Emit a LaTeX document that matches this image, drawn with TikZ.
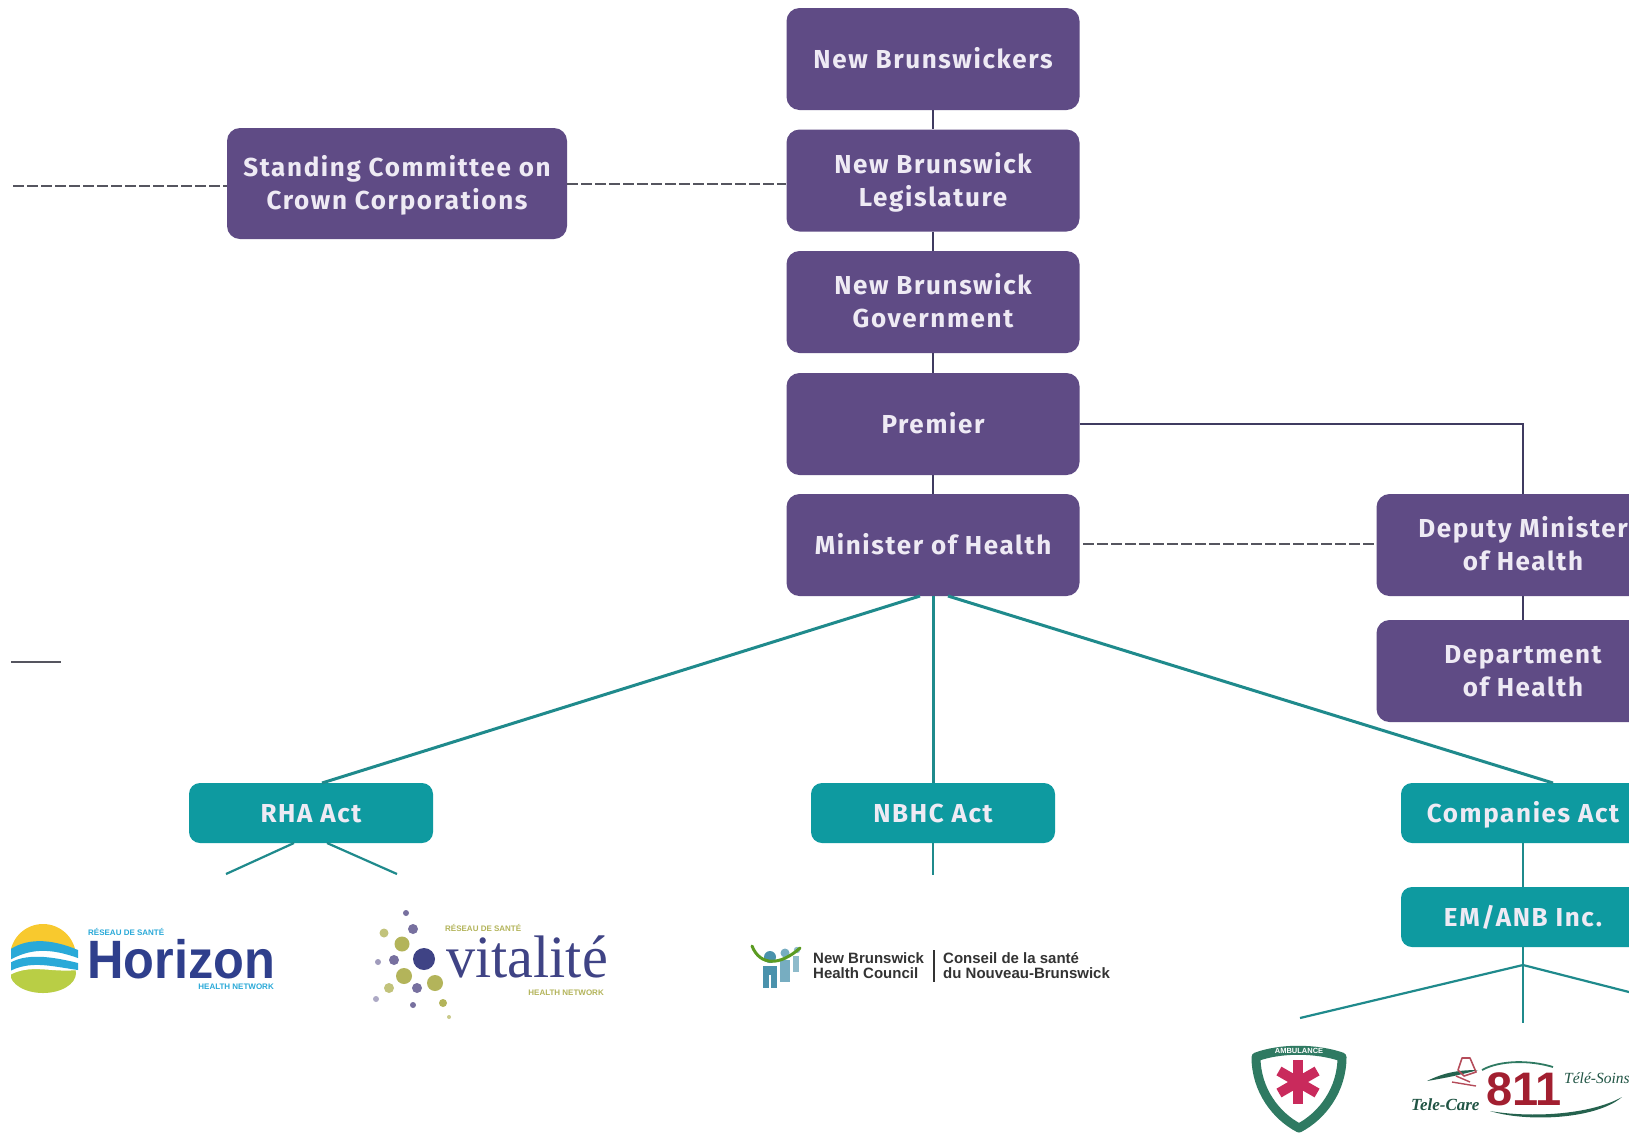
\documentclass[tikz,border=0pt]{standalone}
\usepackage{fontspec}
\setmainfont{Liberation Sans}
\newfontfamily\boxfont[LetterSpace=6.3]{Fira Sans}
\newfontfamily\serifbrand{Liberation Serif}
\newcommand\ls{\rule[-7.5pt]{0pt}{33pt}}
\definecolor{boxpurple}{HTML}{5F4B85}
\definecolor{boxteal}{HTML}{0E9AA0}
\definecolor{linkpurple}{HTML}{3F3B60}
\definecolor{linkteal}{HTML}{1F8A8C}
\definecolor{dashgrey}{HTML}{55555F}
\definecolor{boxtext}{HTML}{EEEAF4}
\definecolor{hznavy}{HTML}{2F3F8C}
\definecolor{hzblue}{HTML}{29A9D8}
\definecolor{hzyellow}{HTML}{F8C92E}
\definecolor{hzgreen}{HTML}{B9CE45}
\definecolor{vtnavy}{HTML}{3F4385}
\definecolor{vtolive}{HTML}{B3B45A}
\definecolor{vtplum}{HTML}{77709F}
\definecolor{shieldgreen}{HTML}{2F7A62}
\definecolor{starred}{HTML}{C92A5C}
\definecolor{elevenred}{HTML}{A21F30}
\tikzset{
  x=1pt,y=-1pt,
  orgbox/.style={fill=boxpurple,rounded corners=13pt,minimum width=293pt,minimum height=102pt,inner sep=0pt,
    text=boxtext,align=center,font=\boxfont\bfseries\fontsize{26}{33}\selectfont},
  actbox/.style={fill=boxteal,rounded corners=11pt,minimum width=244pt,minimum height=60pt,inner sep=0pt,
    text=boxtext,align=center,font=\boxfont\bfseries\fontsize{26}{33}\selectfont},
  chain/.style={draw=linkpurple,line width=2pt},
  branch/.style={draw=linkteal,line width=3pt},
  thinbranch/.style={draw=linkteal,line width=2.2pt},
  dashlink/.style={draw=dashgrey,line width=1.6pt,dash pattern=on 11pt off 3pt},
  tiny/.style={inner sep=0pt,font=\bfseries\fontsize{8}{9}\selectfont},
  brand/.style={inner sep=0pt,anchor=base west},
  nb/.style={inner sep=0pt,anchor=base west,text=black!80,font=\bfseries\fontsize{15}{15}\selectfont},
}
\begin{document}
\begin{tikzpicture}
\useasboundingbox (0,0) rectangle (1629,1136);
\clip (0,0) rectangle (1629,1136);
\fill[white] (0,0) rectangle (1629,1136);

% organisation boxes
\node[orgbox] (people) at (933,59) {\ls New Brunswickers};
\node[orgbox] (leg) at (933,180.5) {\ls New Brunswick\\\ls Legislature};
\node[orgbox] (gov) at (933,302) {\ls New Brunswick\\\ls Government};
\node[orgbox] (premier) at (933,424) {\ls Premier};
\node[orgbox] (minister) at (933,545) {\ls Minister of Health};
\node[orgbox,minimum width=340pt,minimum height=111pt] (committee) at (397,183.5) {\ls Standing Committee on\\\ls Crown Corporations};
\node[orgbox] (deputy) at (1523,545) {\ls Deputy Minister\\\ls of Health};
\node[orgbox] (dept) at (1523,671) {\ls Department\\\ls of Health};

% act boxes
\node[actbox] (rha) at (311,813) {\ls RHA Act};
\node[actbox] (nbhc) at (933,813) {\ls NBHC Act};
\node[actbox] (companies) at (1523,813) {\ls Companies Act};
\node[actbox] (em) at (1523,917) {\ls EM/ANB Inc.};

% free ends
\coordinate (legendstart) at (13,186);
\coordinate (solidA) at (11,662);
\coordinate (solidB) at (61,662);
\coordinate (ministerL) at (920,596);
\coordinate (ministerR) at (948,596);
\coordinate (rhaTop) at (322,783);
\coordinate (compTop) at (1553,783);
\coordinate (rhaL) at (294,843);
\coordinate (rhaLend) at (226,874);
\coordinate (rhaR) at (327,843);
\coordinate (rhaRend) at (397,874);
\coordinate (nbhcEnd) at (933,875);
\coordinate (emHub) at (1523,965);
\coordinate (emDown) at (1523,1023);
\coordinate (emLeft) at (1300,1018);
\coordinate (emRight) at (1629,992);
\coordinate (premierBend) at (1523,424);
\coordinate (depDashStart) at (1083,544);

% connectors
\draw[chain] (people.south) -- (leg.north);
\draw[chain] (leg.south) -- (gov.north);
\draw[chain] (gov.south) -- (premier.north);
\draw[chain] (premier.south) -- (minister.north);
\draw[chain] (premier.east) -- (premierBend) -- (deputy.north);
\draw[chain] (deputy.south) -- (dept.north);
\draw[dashlink] (legendstart) -- (committee.west |- legendstart);
\draw[dashlink] (committee.east |- 0,184) -- (leg.west |- 0,184);
\draw[dashlink] (depDashStart) -- (deputy.west |- depDashStart);
\draw[draw=dashgrey,line width=2.4pt] (solidA) -- (solidB);
\draw[branch] (ministerL) -- (rhaTop);
\draw[branch] (minister.south) -- (nbhc.north);
\draw[branch] (ministerR) -- (compTop);
\draw[thinbranch] (rhaL) -- (rhaLend);
\draw[thinbranch] (rhaR) -- (rhaRend);
\draw[thinbranch] (nbhc.south) -- (nbhcEnd);
\draw[thinbranch] (companies.south) -- (em.north);
\draw[thinbranch] (em.south) -- (emDown);
\draw[thinbranch] (emLeft) -- (emHub) -- (emRight);

% Horizon logo
\begin{scope}[yshift=2pt]
  \clip (11,900) rectangle (80,1010);
  \fill[hzyellow] (43,959) circle (33);
  \fill[hzgreen] (43,975) ellipse (33 and 20);
  \fill[white] (8,960) .. controls (25,945) and (50,945) .. (78,958) -- (78,972) .. controls (50,975) and (30,965) .. (8,978) -- cycle;
  \fill[hzblue] (8,953) .. controls (25,940) and (50,940) .. (78,952) -- (78,960) .. controls (50,950) and (30,950) .. (8,963) -- cycle;
  \fill[hzblue] (8,966) .. controls (25,955) and (50,958) .. (78,965) -- (78,972) .. controls (50,968) and (30,962) .. (8,974) -- cycle;
\end{scope}
\node[brand,text=hznavy,font=\bfseries\fontsize{54}{54}\selectfont,xscale=0.935,transform shape] (hztext) at (87,978) {Horizon};
\node[tiny,text=hzblue,anchor=west] (hzup) at (88,932) {RÉSEAU DE SANTÉ};
\node[tiny,text=hzblue,anchor=east] (hzlow) at (274,987) {HEALTH NETWORK};

% Vitalité logo
\fill[vtnavy] (424,959) circle (11);
\foreach \px/\py/\pd/\pc in {406/913/6/vtplum,413/929/10/vtplum,384/933/9/vtolive!80,402/944/15/vtolive,378/962/6/vtplum!70,394/960/10/vtplum,404/976/16/vtolive,435/983/16/vtolive,389/988/10/vtolive!80,417/988/10/vtplum,376/999/6/vtplum!60,413/1005/6/vtplum,443/1003/8/vtolive,449/1017/4/vtolive!70}
  \fill[\pc] (\px,\py) circle ({\pd/2});
\node[brand,text=vtnavy,font=\serifbrand\fontsize{60}{60}\selectfont,xscale=0.97,transform shape] (vttext) at (446,977) {vitalité};
\node[tiny,text=vtolive,anchor=west] (vtup) at (445,928) {RÉSEAU DE SANTÉ};
\node[tiny,text=vtolive,anchor=east] (vtlow) at (604,993) {HEALTH NETWORK};

% Health Council logo
\fill[hzblue!70!black!80] (770,957) circle (6);
\fill[hzblue!70!black!60] (785,953) circle (4.5);
\fill[hzblue!70!black!50] (797,950) circle (3.2);
\fill[hzblue!70!black!80] (763,966) rectangle (777,988);
\fill[hzblue!70!black!60] (780,960) rectangle (790,982);
\fill[hzblue!70!black!50] (793,956) rectangle (799,972);
\fill[white] (769,975) rectangle (771,988);
\draw[hzgreen!70!green!70!black,line width=3pt,line cap=round] (752,946) .. controls (760,966) and (780,966) .. (800,948);
\node[nb] (nben1) at (813,963) {New Brunswick};
\node[nb] (nben2) at (813,978) {Health Council};
\fill[black!80] (933,950) rectangle (935,982);
\node[nb] (nbfr1) at (943,963) {Conseil de la santé};
\node[nb] (nbfr2) at (943,978) {du Nouveau-Brunswick};

% Ambulance shield
\draw[shieldgreen,line width=9pt,fill=white,line join=round]
  (1256,1057) .. controls (1280,1048) and (1316,1048) .. (1342,1057)
  .. controls (1342,1090) and (1322,1116) .. (1299,1128)
  .. controls (1276,1116) and (1256,1090) .. (1256,1057) -- cycle;
\foreach \ang in {30,90,150}
  \draw[starred,line width=10pt] (1298,1082) ++(\ang:-22) -- ++(\ang:44);
\node[inner sep=0pt,text=white,font=\bfseries\fontsize{7.5}{8}\selectfont] (ambtext) at (1299,1051) {AMBULANCE};

% 811 logo
\draw[shieldgreen,line width=1.8pt] (1482,1070) .. controls (1500,1060) and (1530,1060) .. (1553,1067);
\fill[shieldgreen!80!black] (1427,1081) .. controls (1445,1072) and (1460,1070) .. (1478,1070) .. controls (1460,1075) and (1445,1078) .. (1427,1081) -- cycle;
\fill[shieldgreen!80!black] (1490,1111) .. controls (1530,1118) and (1590,1115) .. (1622,1097) .. controls (1595,1120) and (1525,1122) .. (1490,1111) -- cycle;
\draw[elevenred!80,line width=1.6pt,line join=round] (1462,1058) -- (1470,1058) -- (1476,1072) -- (1464,1076) -- (1458,1070) -- cycle;
\draw[elevenred!80,line width=1.4pt] (1452,1082) -- (1476,1086) (1456,1076) -- (1470,1082);
\node[brand,text=elevenred,font=\bfseries\fontsize{47}{47}\selectfont] (eleven) at (1486,1105) {811};
\node[brand,text=shieldgreen!70!black,font=\serifbrand\itshape\bfseries\fontsize{17}{17}\selectfont] (telecare) at (1411,1110) {Tele-Care};
\node[brand,text=shieldgreen!70!black,font=\serifbrand\itshape\fontsize{15.5}{16}\selectfont] (telesoins) at (1564,1083) {Télé-Soins};
\end{tikzpicture}
\end{document}
